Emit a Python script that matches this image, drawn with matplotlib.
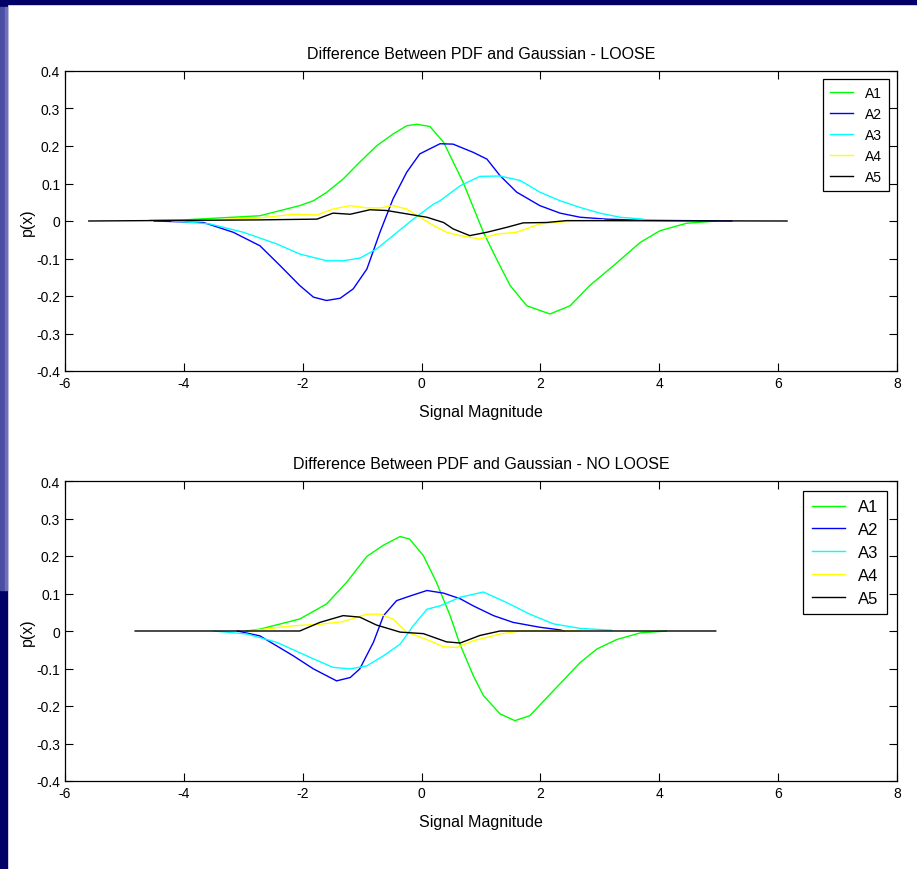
import matplotlib
matplotlib.use("Agg")
import matplotlib.pyplot as plt
from matplotlib.patches import Rectangle

plt.rcParams['font.family'] = ['Liberation Sans', 'DejaVu Sans']
plt.rcParams['axes.unicode_minus'] = False

labels = ['A1', 'A2', 'A3', 'A4', 'A5']
colors = ['#00ff00', '#0000ff', '#00ffff', '#ffff00', '#000000']

# ---- LOOSE ----
loose_a1_x = [-4.57, -4.0, -2.72, -2.05, -1.82, -1.6, -1.32, -1.04, -0.76, -0.48, -0.25, -0.08, 0.14, 0.37,
              0.7, 1.04, 1.26, 1.49, 1.77, 2.16, 2.5, 2.83, 3.23, 3.68, 4.01, 4.46, 4.97]
loose_a1_y = [0.002, 0.003, 0.014, 0.041, 0.054, 0.076, 0.112, 0.157, 0.2, 0.232, 0.254, 0.258, 0.252, 0.21,
              0.103, -0.03, -0.101, -0.172, -0.226, -0.248, -0.226, -0.172, -0.119, -0.057, -0.026, -0.006, 0.0]
loose_a2_x = [-4.5, -3.67, -3.17, -2.72, -2.38, -2.05, -1.82, -1.6, -1.37, -1.15, -0.92, -0.7, -0.48, -0.25,
              -0.03, 0.31, 0.53, 0.87, 1.1, 1.32, 1.6, 1.99, 2.33, 2.67, 3.11, 3.68, 5.22]
loose_a2_y = [0.0, -0.004, -0.03, -0.066, -0.119, -0.172, -0.203, -0.212, -0.206, -0.181, -0.128, -0.03, 0.059, 0.13,
              0.179, 0.206, 0.205, 0.183, 0.165, 0.121, 0.077, 0.041, 0.021, 0.01, 0.005, 0.002, 0.0]
loose_a3_x = [-4.2, -4.0, -3.56, -3.0, -2.44, -2.05, -1.6, -1.32, -1.04, -0.76, -0.48, -0.14, 0.2, 0.31,
              0.65, 0.98, 1.32, 1.66, 1.99, 2.33, 2.67, 3.0, 3.34, 3.73]
loose_a3_y = [0.0, -0.002, -0.008, -0.03, -0.061, -0.088, -0.106, -0.106, -0.099, -0.075, -0.039, 0.005, 0.045, 0.054,
              0.094, 0.119, 0.12, 0.108, 0.077, 0.054, 0.036, 0.021, 0.01, 0.005]
loose_a4_x = [-3.28, -2.72, -2.16, -1.76, -1.49, -1.2, -0.92, -0.7, -0.48, -0.25, -0.03, 0.2, 0.42, 0.65,
              0.98, 1.26, 1.6, 1.99, 2.38, 3.06]
loose_a4_y = [0.005, 0.008, 0.018, 0.016, 0.032, 0.041, 0.035, 0.035, 0.041, 0.032, 0.01, -0.012, -0.03, -0.039,
              -0.048, -0.035, -0.03, -0.008, -0.002, 0.003]
loose_a5_x = [-5.6, -2.72, -1.76, -1.49, -1.2, -0.87, -0.59, -0.25, 0.09, 0.37, 0.53, 0.81, 1.1, 1.43,
              1.71, 2.1, 2.44, 6.15]
loose_a5_y = [0.0, 0.003, 0.005, 0.021, 0.018, 0.03, 0.028, 0.019, 0.01, -0.004, -0.021, -0.039, -0.03, -0.017,
              -0.005, -0.004, 0.001, 0.0]

# ---- NO LOOSE ----
noloose_a1_x = [-2.95, -2.72, -2.05, -1.6, -1.26, -0.92, -0.64, -0.36, -0.2, 0.03, 0.25, 0.48, 0.65,
                0.87, 1.04, 1.32, 1.57, 1.82, 2.22, 2.67, 2.95, 3.28, 3.68, 4.12]
noloose_a1_y = [0.0, 0.005, 0.032, 0.072, 0.13, 0.199, 0.229, 0.252, 0.245, 0.201, 0.13, 0.041, -0.037,
                -0.119, -0.172, -0.221, -0.239, -0.226, -0.159, -0.084, -0.048, -0.023, -0.005, 0.0]
noloose_a2_x = [-3.1, -2.72, -2.16, -1.82, -1.43, -1.2, -1.04, -0.81, -0.64, -0.42, -0.2, 0.09, 0.37,
                0.65, 0.87, 1.21, 1.54, 1.99, 2.33, 2.4]
noloose_a2_y = [0.0, -0.013, -0.066, -0.101, -0.133, -0.124, -0.101, -0.03, 0.041, 0.081, 0.093, 0.108, 0.101,
                0.086, 0.067, 0.041, 0.023, 0.01, 0.003, 0.0]
noloose_a3_x = [-3.5, -2.94, -2.44, -1.88, -1.49, -1.2, -0.92, -0.64, -0.36, -0.14, 0.09, 0.31, 0.65,
                1.04, 1.43, 1.82, 2.22, 2.67, 3.2]
noloose_a3_y = [0.0, -0.008, -0.03, -0.07, -0.097, -0.101, -0.093, -0.066, -0.035, 0.014, 0.058, 0.067, 0.09,
                0.104, 0.076, 0.045, 0.019, 0.007, 0.002]
noloose_a4_x = [-2.9, -2.16, -1.71, -1.32, -0.92, -0.7, -0.48, -0.25, 0.09, 0.37, 0.59, 0.87, 1.32, 1.66, 2.67]
noloose_a4_y = [0.0, 0.014, 0.018, 0.025, 0.045, 0.045, 0.032, -0.003, -0.023, -0.042, -0.044, -0.026, -0.008, 0.0, 0.0]
noloose_a5_x = [-4.82, -2.05, -1.71, -1.32, -1.04, -0.76, -0.36, 0.03, 0.42, 0.65, 0.98, 1.32, 1.71, 4.95]
noloose_a5_y = [0.0, 0.0, 0.023, 0.041, 0.037, 0.016, -0.003, -0.007, -0.029, -0.032, -0.012, 0.0, 0.0, 0.0]

panels = [
    ("Difference Between PDF and Gaussian - LOOSE",
     [(loose_a1_x, loose_a1_y), (loose_a2_x, loose_a2_y), (loose_a3_x, loose_a3_y),
      (loose_a4_x, loose_a4_y), (loose_a5_x, loose_a5_y)], 10, 1.7, 0.5),
    ("Difference Between PDF and Gaussian - NO LOOSE",
     [(noloose_a1_x, noloose_a1_y), (noloose_a2_x, noloose_a2_y), (noloose_a3_x, noloose_a3_y),
      (noloose_a4_x, noloose_a4_y), (noloose_a5_x, noloose_a5_y)], 12, 2.0, 0.47),
]

fig = plt.figure(figsize=(9.17, 8.7), dpi=100)
fig.patch.set_facecolor('white')

# slide frame
navy = '#000066'
fig.add_artist(Rectangle((0, 1 - 5 / 870), 1, 5 / 870, transform=fig.transFigure, color=navy, zorder=0))
fig.add_artist(Rectangle((0, 0), 7 / 917, 1, transform=fig.transFigure, color=navy, zorder=0))
fig.add_artist(Rectangle((0, (870 - 591) / 870), 5 / 917, (591 - 8) / 870, transform=fig.transFigure,
                         color='#4a4fa3', zorder=1))
fig.add_artist(Rectangle((5 / 917, (870 - 591) / 870), 2 / 917, (591 - 8) / 870, transform=fig.transFigure,
                         color='#6d70bd', zorder=1))

boxes = [[65 / 917, 498 / 870, 832 / 917, 300 / 870],
         [65 / 917, 88 / 870, 832 / 917, 300 / 870]]

for box, (title, series, legsize, hlen, lspace) in zip(boxes, panels):
    ax = fig.add_axes(box)
    for (xs, ys), lab, c in zip(series, labels, colors):
        ax.plot(xs, ys, color=c, lw=1.0, label=lab)
    ax.set_xlim(-6, 8)
    ax.set_ylim(-0.4, 0.4)
    ax.set_xticks([-6, -4, -2, 0, 2, 4, 6, 8])
    ax.set_yticks([-0.4, -0.3, -0.2, -0.1, 0, 0.1, 0.2, 0.3, 0.4])
    ax.set_yticklabels(['-0.4', '-0.3', '-0.2', '-0.1', '0', '0.1', '0.2', '0.3', '0.4'])
    ax.tick_params(direction='in', top=True, right=True, length=6, width=0.8, labelsize=10)
    for s in ax.spines.values():
        s.set_linewidth(0.9)
    ax.set_title(title, fontsize=11.5, pad=9)
    ax.set_xlabel("Signal Magnitude", fontsize=11.5, labelpad=10)
    ax.set_ylabel("p(x)", fontsize=11.5, labelpad=1)
    leg = ax.legend(loc='upper right', fontsize=legsize, fancybox=False, framealpha=1,
                    edgecolor='black', borderaxespad=0.6, handlelength=hlen, labelspacing=lspace,
                    borderpad=0.5)
    leg.get_frame().set_linewidth(0.9)

plt.savefig("out.png", dpi=100)
